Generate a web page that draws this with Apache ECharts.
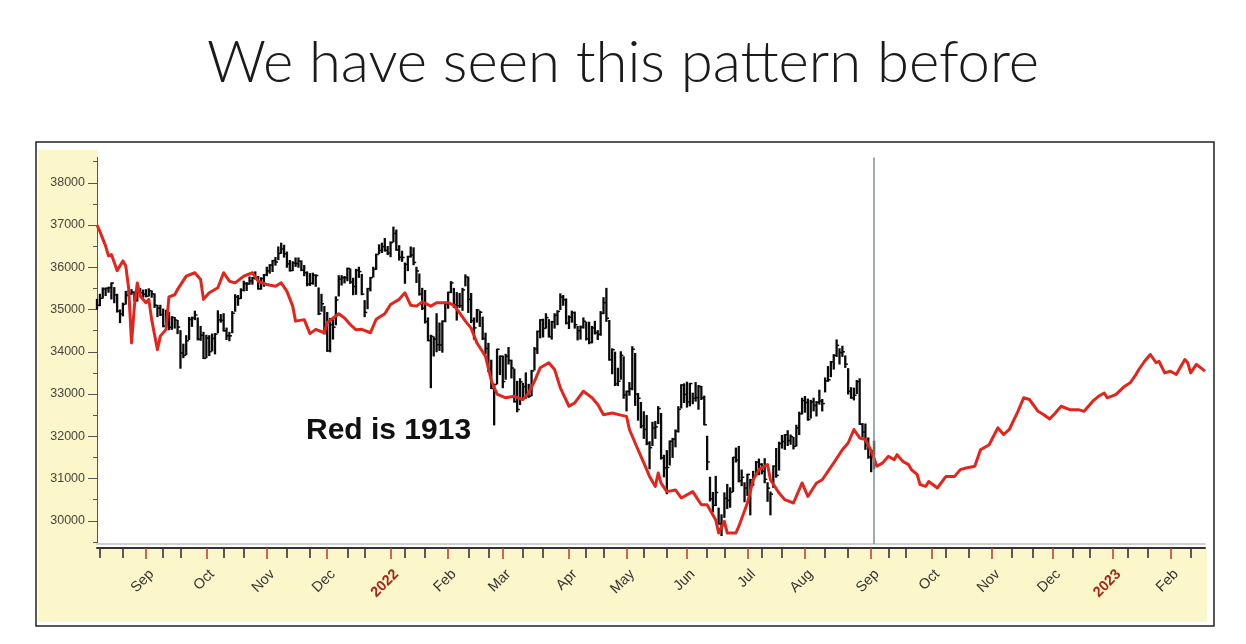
<!DOCTYPE html>
<html>
<head>
<meta charset="utf-8">
<script src="https://cdn.jsdelivr.net/npm/echarts@6/dist/echarts.min.js"></script>
<style>
html,body{margin:0;padding:0;background:#ffffff;}
#chart{width:1246px;height:644px;}
</style>
</head>
<body>
<div id="chart"></div>
<script>
// ---------------- data ----------------
const titleText = 'We have seen this pattern before';
const noteText = 'Red is 1913';
const monthNames = ['Jan','Feb','Mar','Apr','May','Jun','Jul','Aug','Sep','Oct','Nov','Dec'];
const yTickValues = [30000,31000,32000,33000,34000,35000,36000,37000,38000];
const yMinorValues = [29500,30500,31500,32500,33500,34500,35500,36500,37500,38500];
const firstDay = '2021-08-09';
const lastDay = '2023-02-17';
const marketHolidays = ['2021-09-06','2021-11-25','2021-12-24','2022-01-17','2022-02-21','2022-04-15',
  '2022-05-30','2022-06-20','2022-07-04','2022-09-05','2022-11-24','2022-12-26','2023-01-02','2023-01-16'];
const markerDate = '2022-09-02';

// Daily bars (2021-08-09 .. 2022-09-02), each [high, low, close]
const dowHLC = [
  // Aug 2021
  [35240,35010,35101],[35360,35090,35264],[35510,35270,35485],[35510,35330,35500],[35530,35410,35515],
  [35630,35250,35625],[35520,35160,35343],[35360,34940,34961],[34990,34690,34894],[35150,34850,35120],
  [35430,35130,35336],[35450,35320,35367],[35470,35360,35406],[35420,35200,35214],[35510,35200,35456],
  [35500,35370,35400],[35460,35290,35361],
  // Sep 2021
  [35470,35300,35313],[35490,35320,35444],[35440,35290,35369],[35370,35050,35100],[35100,34830,35031],
  [35100,34860,34879],[35010,34590,34608],[34980,34660,34870],[34930,34520,34578],[34830,34530,34814],
  [34810,34560,34751],[34740,34430,34584],[34500,33610,33970],[34180,33860,33919],[34380,33930,34258],
  [34810,34290,34765],[34820,34600,34798],[34960,34760,34870],[34800,34280,34300],[34600,34270,34391],
  [34460,33840,33844],
  // Oct 2021
  [34390,33860,34326],[34380,33910,34002],[34420,34020,34315],[34430,33950,34417],[34970,34450,34755],
  [34880,34700,34746],[34900,34490,34496],[34560,34290,34378],[34460,34260,34377],[34950,34450,34912],
  [35350,34960,35295],[35330,35100,35259],[35490,35260,35458],[35670,35440,35610],[35640,35450,35603],
  [35770,35600,35677],[35760,35600,35742],[35890,35720,35757],[35780,35480,35491],[35750,35480,35731],
  [35830,35550,35820],
  // Nov 2021
  [36000,35800,35913],[36060,35860,36053],[36160,35900,36158],[36230,36050,36124],[36480,36180,36328],
  [36570,36330,36432],[36520,36240,36320],[36360,36000,36080],[36160,35910,35921],[36130,35920,36100],
  [36220,36020,36087],[36220,36000,36143],[36150,35920,35931],[36040,35800,35871],[35890,35560,35602],
  [35850,35570,35620],[35860,35600,35814],[35820,35550,35804],[35510,34880,34899],[35360,34960,35136],
  [35070,34420,34484],
  // Dec 2021
  [34930,34010,34022],[34790,34000,34640],[34760,34300,34580],[35300,34640,35227],[35800,35320,35719],
  [35800,35580,35754],[35780,35630,35754],[35980,35680,35971],[35960,35620,35650],[35740,35350,35544],
  [35950,35360,35927],[36000,35760,35898],[35830,35350,35365],[35210,34830,34932],[35500,35020,35493],
  [35760,35440,35754],[36000,35770,35951],[36310,35950,36302],[36530,36320,36398],[36570,36350,36488],
  [36680,36380,36398],[36490,36300,36338],
  // Jan 2022
  [36600,36250,36585],[36950,36600,36800],[36880,36400,36408],[36510,36170,36236],[36380,36140,36231],
  [36100,35620,36068],[36260,35920,36252],[36480,36240,36290],[36460,36060,36114],[36000,35640,35912],
  [35840,35340,35369],[35500,35000,35029],[35450,34680,34715],[34800,34260,34265],[34390,33150,34365],
  [34350,33900,34298],[34900,34000,34168],[34680,34030,34160],[34730,33990,34725],[35170,34710,35132],
  // Feb 2022
  [35410,35030,35405],[35660,35400,35629],[35500,35050,35111],[35400,34750,35090],[35380,35050,35091],
  [35500,34980,35463],[35820,35560,35768],[35770,34930,35241],[35380,34690,34738],[34800,34300,34566],
  [35000,34700,34989],[34960,34600,34935],[34820,34290,34312],[34440,33950,34079],[34200,33530,33597],
  [33800,33130,33132],[33230,32270,33224],[34060,33240,34059],[33900,33460,33893],
  // Mar 2022
  [33900,33150,33294],[33940,33350,33891],[34100,33710,33795],[33800,33380,33615],[33590,32810,32818],
  [33300,32580,32633],[33360,32750,33286],[33250,32880,33174],[33500,32900,32944],[33230,32920,32945],
  [33560,32960,33545],[34100,33570,34063],[34490,33960,34481],[34760,34330,34755],[34770,34350,34553],
  [34900,34560,34808],[34760,34350,34358],[34720,34300,34708],[34900,34560,34862],[34970,34640,34955],
  [35370,35000,35294],[35330,35100,35229],[35250,34660,34678],
  // Apr 2022
  [34850,34550,34818],[34960,34700,34922],[34940,34560,34641],[34600,34280,34497],[34610,34300,34584],
  [34800,34560,34721],[34700,34280,34309],[34700,34190,34220],[34600,34210,34565],[34720,34420,34451],
  [34500,34290,34412],[34950,34390,34911],[35280,34900,35161],[35500,34720,34793],[34740,33800,33811],
  [34070,33480,34049],[33990,33200,33240],[33610,33200,33302],[34000,33350,33916],[33880,32900,32977],
  // May 2022
  [33070,32600,33062],[33270,32970,33129],[34120,33100,34061],[33960,32730,32998],[33010,32380,32900],
  [32800,32200,32246],[32580,31950,32161],[32490,31800,31834],[31870,31230,31730],[32330,31780,32197],
  [32350,31950,32223],[32700,32300,32655],[32540,31460,31490],[31550,31040,31253],[31660,30640,31262],
  [31890,31320,31880],[31950,31500,31929],[32150,31750,32120],[32700,32100,32637],[33220,32670,33213],
  [33240,32800,32990],
  // Jun 2022
  [33280,32690,32813],[33250,32720,33248],[33020,32770,32900],[33270,32830,32916],[33200,32640,33180],
  [33180,32870,32910],[32950,32270,32273],[32000,31210,31393],[31030,30470,30517],[30670,30210,30365],
  [31050,30360,30669],[30300,29920,29927],[30140,29650,29889],[30660,30080,30530],[30860,30290,30483],
  [30780,30320,30677],[31500,30690,31501],[31720,31390,31438],[31760,30920,30947],[31200,30830,31029],
  [30900,30450,30775],
  // Jul 2022
  [31100,30600,31097],[30980,30140,30968],[31170,30840,31037],[31400,31080,31385],[31460,31090,31338],
  [31350,31110,31174],[31470,30900,30981],[30900,30460,30773],[30680,30140,30630],[31300,30790,31289],
  [31710,31030,31073],[31860,31200,31827],[32020,31720,31875],[32040,31690,32036],[32130,31780,31899],
  [32030,31810,31990],[31970,31700,31762],[32260,31770,32198],[32570,32040,32530],[32900,32530,32845],
  // Aug 2022
  [32940,32570,32798],[32880,32380,32397],[32850,32430,32813],[32900,32600,32727],[32820,32480,32803],
  [33090,32760,32833],[32870,32600,32774],[33380,33050,33310],[33650,33300,33337],[33770,33410,33761],
  [33930,33590,33913],[34280,33890,34152],[34070,33710,33981],[34130,33890,33999],[33900,33630,33707],
  [33600,33000,33064],[33150,32900,32910],[33140,32860,32970],[33320,33010,33292],[33360,32280,32283],
  [32300,31980,32099],[32290,31690,31791],[31960,31480,31510],
  // Sep 2022
  [31660,31160,31656],[31880,31230,31318]
];

// 1913 analogue line, [date, value]
const red1913 = [
  ['2021-08-09',37000],['2021-08-10',36850],['2021-08-12',36500],['2021-08-13',36270],['2021-08-16',36300],
  ['2021-08-17',36110],['2021-08-18',35920],['2021-08-20',36150],['2021-08-23',36030],['2021-08-24',35500],
  ['2021-08-25',34210],['2021-08-26',35080],['2021-08-27',35630],['2021-08-30',35320],['2021-09-01',35160],
  ['2021-09-02',35240],['2021-09-03',34760],['2021-09-08',34050],['2021-09-09',34370],['2021-09-13',34530],
  ['2021-09-14',35300],['2021-09-16',35350],['2021-09-17',35475],['2021-09-22',35790],['2021-09-27',35870],
  ['2021-09-29',35710],['2021-09-30',35240],['2021-10-04',35395],['2021-10-07',35515],['2021-10-11',35870],
  ['2021-10-13',35670],['2021-10-15',35630],['2021-10-20',35790],['2021-10-25',35870],['2021-10-27',35670],
  ['2021-11-01',35590],['2021-11-04',35550],['2021-11-08',35630],['2021-11-10',35430],['2021-11-12',35080],
  ['2021-11-15',34725],['2021-11-18',34760],['2021-11-22',34430],['2021-11-24',34530],['2021-11-30',34450],
  ['2021-12-01',34690],['2021-12-07',34900],['2021-12-09',34800],['2021-12-13',34645],['2021-12-15',34520],
  ['2021-12-17',34530],['2021-12-22',34450],['2021-12-27',34770],['2021-12-30',34900],['2022-01-03',35120],
  ['2022-01-04',35160],['2022-01-06',35240],['2022-01-10',35395],['2022-01-12',35100],['2022-01-14',35080],
  ['2022-01-19',35180],['2022-01-24',35080],['2022-01-26',35160],['2022-02-01',35160],['2022-02-03',35100],
  ['2022-02-07',34920],['2022-02-09',34725],['2022-02-11',34560],['2022-02-15',34210],['2022-02-17',34000],
  ['2022-02-18',33890],['2022-02-23',33320],['2022-02-25',33000],['2022-03-02',32910],['2022-03-07',32945],
  ['2022-03-10',32870],['2022-03-14',33025],['2022-03-16',33300],['2022-03-18',33620],['2022-03-23',33740],
  ['2022-03-25',33580],['2022-03-29',33145],['2022-04-01',32710],['2022-04-05',32790],['2022-04-08',33065],
  ['2022-04-13',32910],['2022-04-18',32750],['2022-04-20',32510],['2022-04-25',32550],['2022-04-28',32500],
  ['2022-05-02',32470],['2022-05-03',32160],['2022-05-06',31680],['2022-05-10',31370],['2022-05-12',31050],
  ['2022-05-16',30810],['2022-05-17',31130],['2022-05-18',30890],['2022-05-20',30690],['2022-05-25',30730],
  ['2022-05-27',30540],['2022-06-03',30690],['2022-06-08',30380],['2022-06-10',30380],['2022-06-15',30020],
  ['2022-06-16',29710],['2022-06-21',29985],['2022-06-22',29710],['2022-06-27',29710],['2022-06-28',29865],
  ['2022-07-01',30420],['2022-07-06',30970],['2022-07-08',31210],['2022-07-13',31330],['2022-07-14',30970],
  ['2022-07-19',30655],['2022-07-21',30500],['2022-07-26',30420],['2022-07-29',30895],['2022-08-02',30575],
  ['2022-08-05',30895],['2022-08-09',30970],['2022-08-15',31370],['2022-08-18',31680],['2022-08-22',31840],
  ['2022-08-24',32160],['2022-08-26',31960],['2022-08-30',31920],['2022-09-01',31660],['2022-09-06',31290],
  ['2022-09-08',31370],['2022-09-12',31525],['2022-09-14',31445],['2022-09-15',31565],['2022-09-19',31405],
  ['2022-09-21',31330],['2022-09-22',31210],['2022-09-26',31090],['2022-09-27',30855],['2022-09-29',30815],
  ['2022-09-30',30930],['2022-10-05',30775],['2022-10-10',31050],['2022-10-13',31050],['2022-10-17',31210],
  ['2022-10-19',31250],['2022-10-24',31290],['2022-10-26',31680],['2022-10-31',31800],['2022-11-03',32200],
  ['2022-11-07',32040],['2022-11-09',32160],['2022-11-14',32590],['2022-11-16',32910],['2022-11-18',32870],
  ['2022-11-23',32590],['2022-11-28',32510],['2022-11-30',32410],['2022-12-02',32550],['2022-12-06',32710],
  ['2022-12-09',32630],['2022-12-14',32630],['2022-12-16',32590],['2022-12-21',32830],['2022-12-23',32945],
  ['2022-12-28',33025],['2022-12-29',32910],['2023-01-04',32985],['2023-01-09',33180],['2023-01-11',33265],
  ['2023-01-13',33460],['2023-01-17',33580],['2023-01-19',33775],['2023-01-23',33935],['2023-01-25',33740],
  ['2023-01-26',33775],['2023-01-30',33500],['2023-02-01',33540],['2023-02-03',33460],['2023-02-08',33815],
  ['2023-02-09',33740],['2023-02-10',33500],['2023-02-14',33700],['2023-02-17',33540]
];

// ---------------- build ----------------
function tradingDays(start, end, skip) {
  const out = [];
  const skipSet = new Set(skip);
  const [sy, sm, sd] = start.split('-').map(Number);
  const [ey, em, ed] = end.split('-').map(Number);
  let t = Date.UTC(sy, sm - 1, sd);
  const tEnd = Date.UTC(ey, em - 1, ed);
  while (t <= tEnd) {
    const d = new Date(t);
    const wd = d.getUTCDay();
    const s = d.toISOString().slice(0, 10);
    if (wd !== 0 && wd !== 6 && !skipSet.has(s)) out.push(s);
    t += 86400000;
  }
  return out;
}
const categories = tradingDays(firstDay, lastDay, marketHolidays);
const monthOf = s => Number(s.slice(5, 7));
const dayOf = s => Number(s.slice(8, 10));

const monthStart = new Set();
const minorTicks = new Set();
const labelAt = new Set();
categories.forEach((c, i) => {
  const sameMonth = i > 0 && monthOf(categories[i - 1]) === monthOf(c);
  if (i > 0 && !sameMonth) { monthStart.add(i); labelAt.add(i + 2); }
  const d = dayOf(c);
  const pd = sameMonth ? dayOf(categories[i - 1]) : 0;
  if ((d >= 10 && pd < 10) || (d >= 20 && pd < 20)) minorTicks.add(i);
});

const barData = dowHLC.map((r, i) => [categories[i], r[0], r[1], r[2]]);

const LABEL_FONT = '"Liberation Sans", Arial, sans-serif';
const baseX = {
  type: 'category', data: categories, boundaryGap: false, position: 'bottom', gridIndex: 0,
  axisLine: { show: false, onZero: false }, axisTick: { show: false }, axisLabel: { show: false },
  splitLine: { show: false }
};

const chart = echarts.init(document.getElementById('chart'), null, { renderer: 'canvas' });
chart.setOption({
  animation: false,
  backgroundColor: '#ffffff',
  title: {
    text: titleText, left: 'center', top: 29,
    textStyle: { fontFamily: 'Lato, "Open Sans", sans-serif', fontWeight: 300, fontSize: 58, color: '#1a1a1a' }
  },
  graphic: [
    { type: 'rect', z: -10, shape: { x: 38, y: 150, width: 59, height: 472 }, style: { fill: '#fcf6cb' } },
    { type: 'rect', z: -10, shape: { x: 38, y: 549, width: 1169, height: 73 }, style: { fill: '#fcf6cb' } },
    { type: 'rect', z: 10, shape: { x: 36, y: 142, width: 1178, height: 484 }, style: { fill: 'none', stroke: '#222', lineWidth: 1.5 } },
    { type: 'text', z: 20, left: 306, top: 416,
      style: { text: noteText, font: 'bold 30px "Liberation Sans", Arial, sans-serif', fill: '#111' } }
  ],
  grid: { left: 97, top: 157.4, width: 1108, height: 386.6, containLabel: false },
  xAxis: [
    Object.assign({}, baseX, {
      offset: 4,
      axisLine: { show: true, onZero: false, lineStyle: { color: '#333', width: 2 } },
      axisTick: { show: true, length: 10, inside: false, interval: (i) => minorTicks.has(i),
        lineStyle: { color: '#333', width: 1.6 } }
    }),
    Object.assign({}, baseX, {
      offset: 4,
      axisTick: { show: true, length: 11, interval: (i) => monthStart.has(i),
        lineStyle: { color: '#b8453a', width: 1.6 } }
    }),
    Object.assign({}, baseX, {
      offset: 4,
      axisLabel: {
        show: true, rotate: 45, margin: 24, interval: (i) => labelAt.has(i),
        fontFamily: LABEL_FONT, fontSize: 14.5,
        formatter: (v) => {
          const m = monthOf(v);
          return m === 1 ? '{yr|' + v.slice(0, 4) + '}' : '{mo|' + monthNames[m - 1] + '}';
        },
        rich: {
          yr: { color: '#a3271d', fontWeight: 'bold', fontSize: 14.5, fontFamily: LABEL_FONT },
          mo: { color: '#333333', fontSize: 14.5, fontFamily: LABEL_FONT }
        }
      }
    }),
    Object.assign({}, baseX, {
      offset: 0,
      axisLine: { show: true, onZero: false, lineStyle: { color: '#cfcfcf', width: 2 } }
    })
  ],
  yAxis: [
    {
      type: 'value', min: 29450, max: 38600, position: 'left', gridIndex: 0,
      axisLine: { show: true, onZero: false, lineStyle: { color: '#555', width: 1 } },
      axisTick: { show: true, length: 9, customValues: yTickValues, lineStyle: { color: '#555', width: 1 } },
      axisLabel: { show: true, customValues: yTickValues, margin: 12, color: '#46463a', fontSize: 12.5,
        fontFamily: LABEL_FONT, formatter: (v) => String(v) },
      splitLine: { show: false }
    },
    {
      type: 'value', min: 29450, max: 38600, position: 'left', gridIndex: 0,
      axisLine: { show: false, onZero: false },
      axisTick: { show: true, length: 4, customValues: yMinorValues, lineStyle: { color: '#555', width: 1 } },
      axisLabel: { show: false },
      splitLine: { show: false }
    }
  ],
  series: [
    {
      type: 'custom', name: 'Dow', xAxisIndex: 0, yAxisIndex: 0, z: 2,
      data: barData, encode: { x: 0, y: [1, 2, 3] },
      renderItem: (params, api) => {
        const hi = api.coord([api.value(0), api.value(1)]);
        const lo = api.coord([api.value(0), api.value(2)]);
        const cl = api.coord([api.value(0), api.value(3)]);
        return {
          type: 'group',
          children: [
            { type: 'line', shape: { x1: hi[0], y1: hi[1] - 0.5, x2: lo[0], y2: lo[1] + 0.5 }, style: { stroke: '#0a0a0a', lineWidth: 2.3 } },
            { type: 'line', shape: { x1: cl[0], y1: cl[1], x2: cl[0] + 2.6, y2: cl[1] }, style: { stroke: '#0a0a0a', lineWidth: 1.5 } }
          ]
        };
      }
    },
    {
      type: 'line', name: '1913', xAxisIndex: 0, yAxisIndex: 0, z: 3,
      data: red1913, showSymbol: false, symbol: 'none',
      lineStyle: { color: '#e3261d', width: 3, join: 'round' },
      markLine: {
        silent: true, symbol: 'none', label: { show: false },
        lineStyle: { color: '#7f8d93', width: 1.5, type: 'solid' },
        data: [{ xAxis: markerDate }]
      }
    }
  ]
});
</script>
</body>
</html>
